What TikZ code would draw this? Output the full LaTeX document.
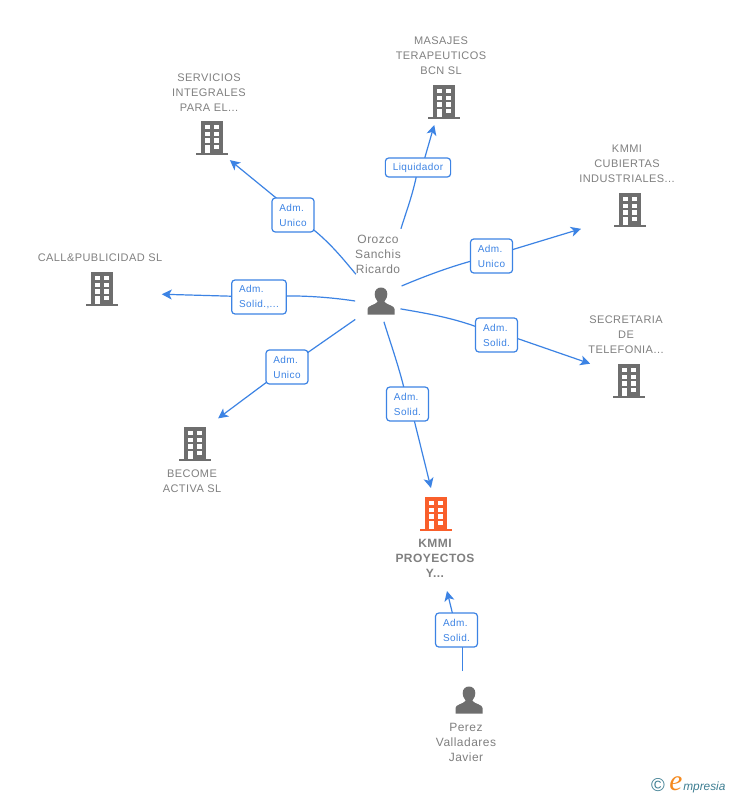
\documentclass[tikz,border=0pt]{standalone}
\usepackage{fontspec}
\setmainfont{Liberation Sans}
\newfontfamily\spaced[LetterSpace=4]{Liberation Sans}
\newfontfamily\logofont{Liberation Serif}
\usetikzlibrary{arrows.meta}
\pgfdeclarelayer{paper}
\pgfdeclarelayer{lines}
\pgfsetlayers{paper,lines,main}
\definecolor{linkblue}{HTML}{3C83E4}
\definecolor{namegrey}{HTML}{808080}
\definecolor{icongrey}{HTML}{6E6E6E}
\definecolor{focusorange}{HTML}{F95F2B}
\definecolor{logoteal}{HTML}{3F7F93}
\definecolor{logoorange}{HTML}{F58A1F}
\tikzset{
  x=0.75pt,y=-0.75pt,
  hub/.style={circle,inner sep=0pt,outer sep=0pt,minimum size=#1*0.75pt},
  compname/.style={text=namegrey,align=center,inner sep=0pt,font=\spaced\fontsize{8.25pt}{11.25pt}\selectfont},
  personname/.style={compname,font=\spaced\fontsize{9pt}{11.25pt}\selectfont},
  rolebox/.style={draw=linkblue,line width=0.9pt,rounded corners=2.5pt,fill=white,text=linkblue,align=left,inner xsep=5.6pt,inner ysep=0pt,minimum height=25.5pt,font=\spaced\fontsize{7.5pt}{11.25pt}\selectfont},
  conn/.style={draw=linkblue,line width=0.9pt},
  arrowconn/.style={conn,-{Stealth[length=7.5pt,width=7.5pt,inset=2pt]}},
  bldg/.pic={
    \fill[pic actions] (-11.3,-17) rectangle (11.3,15);
    \fill[pic actions] (-16,15) rectangle (16,17);
    \foreach \wy in {-13,-6.3,0.3,7}{
      \fill[white] (-7.3,\wy) rectangle (-2.3,\wy+4.3);
      \fill[white] (2.3,\wy) rectangle (7.3,\wy+4.3);
    }
    \fill[white] (-7.3,7) rectangle (-2.3,15);
  },
  manicon/.pic={
    \fill[pic actions] (-13.5,13.5) -- (-13.5,8) .. controls (-13.5,4.5) and (-6,4) .. (-3.6,1)
      -- (-3.6,0) .. controls (-6,-3) and (-6.3,-5) .. (-6.3,-7)
      .. controls (-6.3,-11) and (-3.5,-13.5) .. (0,-13.5)
      .. controls (3.5,-13.5) and (6.3,-11) .. (6.3,-7)
      .. controls (6.3,-5) and (6,-3) .. (3.6,0) -- (3.6,1)
      .. controls (6,4) and (13.5,4.5) .. (13.5,8) -- (13.5,13.5) -- cycle;
  }
}
\begin{document}
\begin{tikzpicture}
\useasboundingbox (0,0) rectangle (728,795);
\begin{pgfonlayer}{paper}
\fill[white] (0,0) rectangle (728,795);
\end{pgfonlayer}

% people
\node[hub=42] (p) at (381,301) {};
\pic[fill=icongrey] at (p) {manicon};
\node[personname] (pname) at (378,254) {Orozco\\Sanchis\\Ricardo};
\node[hub=59] (q) at (469,700) {};
\pic[fill=icongrey] at (q) {manicon};
\node[personname] (qname) at (466,742) {Perez\\Valladares\\Javier};

% companies
\node[hub=57] (b1) at (212,138) {};
\pic[fill=icongrey] at (b1) {bldg};
\node[compname] (n1) at (209,92.7) {SERVICIOS\\INTEGRALES\\PARA EL...};
\node[hub=50] (b2) at (444,102) {};
\pic[fill=icongrey] at (b2) {bldg};
\node[compname] (n2) at (441,56) {MASAJES\\TERAPEUTICOS\\BCN SL};
\node[hub=105] (b3) at (630,210) {};
\pic[fill=icongrey] at (b3) {bldg};
\node[compname] (n3) at (627,164) {KMMI\\CUBIERTAS\\INDUSTRIALES...};
\node[hub=85] (b4) at (629,381) {};
\pic[fill=icongrey] at (b4) {bldg};
\node[compname] (n4) at (626,335) {SECRETARIA\\DE\\TELEFONIA...};
\node[hub=53] (b5) at (436,514) {};
\pic[fill=focusorange] at (b5) {bldg};
\node[compname,font=\spaced\bfseries\fontsize{9pt}{11.25pt}\selectfont] (n5) at (435,558) {KMMI\\PROYECTOS\\Y...};
\node[hub=69] (b6) at (195,444) {};
\pic[fill=icongrey] at (b6) {bldg};
\node[compname] (n6) at (192,481) {BECOME\\ACTIVA SL};
\node[hub=120] (b7) at (102,289) {};
\pic[fill=icongrey] at (b7) {bldg};
\node[compname] (n7) at (100,258) {CALL\&PUBLICIDAD SL};

% role labels
\node[rolebox] (l1) at (293,215) {Adm.\\Unico};
\node[rolebox,minimum height=14.25pt] (l2) at (418,167.5) {Liquidador};
\node[rolebox] (l3) at (491.5,256) {Adm.\\Unico};
\node[rolebox] (l4) at (496.5,335) {Adm.\\Solid.};
\node[rolebox] (l5) at (407.5,404) {Adm.\\Solid.};
\node[rolebox] (l6) at (287,367) {Adm.\\Unico};
\node[rolebox] (l7) at (259,297) {Adm.\\Solid.,...};
\node[rolebox] (l8) at (456.5,630) {Adm.\\Solid.};
\coordinate (t8) at (447,591);

% connectors
\begin{pgfonlayer}{lines}
\draw[conn,shorten <=11.8pt] (p.135) .. controls (342,258) and (325,235) .. (l1.center);
\draw[arrowconn] ([xshift=3pt]l1.center) -- (b1.-51);
\draw[conn,shorten <=40.5pt] (p.78) .. controls (406,212) and (414,192) .. (l2.center);
\draw[arrowconn] ([xshift=3pt]l2.center) -- (b2.-113);
\draw[conn,shorten <=3.5pt] (p.39) .. controls (430,274) and (460,263) .. (l3.center);
\draw[arrowconn] (l3.center) -- (b3.201);
\draw[conn] (p.-22) .. controls (430,314) and (462,319) .. (l4.center);
\draw[arrowconn] ([yshift=2.8pt]l4.center) -- (b4.156);
\draw[conn] (p.-82) .. controls (391,345) and (402,375) .. (l5.center);
\draw[arrowconn] ([xshift=2pt]l5.center) -- (b5.101);
\draw[conn,shorten <=8pt] (p.216) -- (l6.center);
\draw[arrowconn] (l6.center) -- (b6.48);
\draw[conn,shorten <=3.75pt] (p.182) .. controls (335,298) and (300,294) .. (l7.center);
\draw[arrowconn] (l7.center) -- (b7.-5);
\draw[conn] (q.102) -- (q.102 |- l8.center);
\draw[arrowconn] (l8.center) -- (t8);
\end{pgfonlayer}

% logo
\node[inner sep=0pt,text=logoteal,font=\fontsize{14pt}{14pt}\selectfont] (logoc) at (658,785) {©};
\node[inner sep=0pt,anchor=base west,text=logoorange,font=\logofont\itshape\fontsize{22pt}{22pt}\selectfont] (logoe) at (669,790) {e};
\node[inner sep=0pt,anchor=base west,text=logoteal,font=\itshape\fontsize{8.9pt}{8.9pt}\selectfont] (logot) at (683,790) {mpresia};
\end{tikzpicture}
\end{document}
